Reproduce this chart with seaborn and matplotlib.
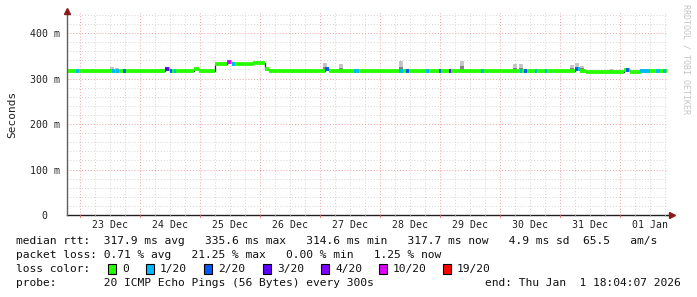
import numpy as np
import pandas as pd
import matplotlib
matplotlib.use("Agg")
import matplotlib.pyplot as plt
from matplotlib.patches import Rectangle
import seaborn as sns

# ---------------- data (time in days since 23 Dec 00:00, rtt in ms) ----------------
med_t = [-0.22, -0.12, 0.00, 1.42, 1.50, 1.90, 1.98, 2.25, 2.45, 2.53, 2.82, 2.88,
         3.08, 3.15, 4.08, 4.15, 6.18, 6.60, 8.10, 8.25, 8.33, 8.43, 9.07, 9.17, 9.35, 9.78]
med_v = [317.5, 316.0, 315.5, 322.0, 315.5, 322.0, 315.5, 333.0, 335.5, 333.0, 331.0, 334.0,
         320.0, 315.5, 320.0, 315.5, 317.0, 315.5, 317.5, 320.0, 317.5, 314.8, 319.0, 315.0, 316.5, 316.5]

loss_start = [-0.07, 0.53, 0.60, 0.72, 1.42, 1.50, 1.57, 2.45, 2.53, 4.08, 4.57, 5.32, 5.43,
              5.77, 5.98, 6.15, 6.68, 7.33, 7.40, 7.58, 7.75, 8.25, 8.30, 9.10, 9.33, 9.60, 9.72]
loss_end = [-0.02, 0.58, 0.65, 0.77, 1.48, 1.53, 1.60, 2.52, 2.58, 4.15, 4.65, 5.38, 5.48,
            5.82, 6.02, 6.18, 6.73, 7.37, 7.45, 7.62, 7.78, 8.30, 8.33, 9.15, 9.50, 9.67, 9.77]
loss_level = [1, 1, 1, 2, 3, 2, 1, 5, 1, 2, 1, 1, 2,
              1, 2, 4, 1, 1, 2, 1, 1, 2, 1, 2, 1, 1, 1]

smoke_t = [0.53, 0.62, 1.28, 4.08, 4.35, 5.07, 5.35, 6.37, 7.25, 7.35, 8.20, 8.28, 8.37, 8.85, 9.67]
smoke_top = [326, 323, 322, 334, 333, 319, 338, 339, 331, 331, 329, 334, 328, 322, 320]

loss_colors = ["#26ff00", "#00b8ff", "#0059ff", "#5e00ff", "#7e00ff", "#dd00ff", "#ff0000"]
loss_labels = ["0", "1/20", "2/20", "3/20", "4/20", "10/20", "19/20"]

day_labels = ["23 Dec", "24 Dec", "25 Dec", "26 Dec", "27 Dec", "28 Dec", "29 Dec",
              "30 Dec", "31 Dec", "01 Jan"]
y_ticks = [0, 100, 200, 300, 400]
y_ticklabels = ["0  ", "100 m", "200 m", "300 m", "400 m"]

stats_rtt = "median rtt:  317.9 ms avg   335.6 ms max   314.6 ms min   317.7 ms now   4.9 ms sd  65.5   am/s"
stats_loss = "packet loss: 0.71 % avg   21.25 % max   0.00 % min   1.25 % now"
probe_txt = "probe:       20 ICMP Echo Pings (56 Bytes) every 300s"
end_txt = "end: Thu Jan  1 18:04:07 2026"

# ---------------- figure ----------------
sns.set_theme(style="white")
plt.rcParams["font.family"] = ["DejaVu Sans Mono", "DejaVu Sans"]

W, H = 697, 297
fig = plt.figure(figsize=(W / 100, H / 100), dpi=100)
fig.patch.set_facecolor("white")

L, R, T, B = 67, 667, 13, 215
ax = fig.add_axes([L / W, 1 - B / H, (R - L) / W, (B - T) / H])
ax.set_facecolor("white")
xmin, xmax = -0.22, 9.78
ymax = 444
ax.set_xlim(xmin, xmax)
ax.set_ylim(0, ymax)

# grid
dot = (0, (1, 2))
for d in np.arange(-0.0, 10.0, 0.25):
    if xmin < d < xmax:
        is_major = abs(d - round(d)) < 1e-6
        ax.axvline(d, color="#f0a0a0" if is_major else "#d4d4d4", lw=0.7, ls=dot, zorder=0)
for yv in range(20, 441, 20):
    ax.axhline(yv, color="#f0a0a0" if yv % 100 == 0 else "#d4d4d4", lw=0.7, ls=dot, zorder=0)

# helper: step lookup of median
def median_at(t):
    idx = np.searchsorted(med_t, t, side="right") - 1
    idx = np.clip(idx, 0, len(med_v) - 1)
    return np.asarray(med_v)[idx]

# smoke
for t, top in zip(smoke_t, smoke_top):
    base = float(median_at(t))
    ax.vlines(t, base, top, color="#c4c4c4", lw=2.8, zorder=2)
    ax.vlines(t, base, base + (top - base) * 0.45, color="#808080", lw=2.8, zorder=2)

# thin dark median step line
df = pd.DataFrame({"t": med_t, "rtt": med_v})
sns.lineplot(data=df, x="t", y="rtt", drawstyle="steps-post", color="#202020",
             lw=0.9, ax=ax, zorder=3, estimator=None)

# thick colored median (loss 0)
ax.hlines(med_v[:-1], med_t[:-1], med_t[1:], color=loss_colors[0], lw=2.7, zorder=4)

# loss-colored pieces
for s, e, lv in zip(loss_start, loss_end, loss_level):
    vals = median_at((s + e) / 2)
    ax.hlines(vals, s, e, color=loss_colors[lv], lw=2.7, zorder=5)

# axes styling
for sp in ["top", "right"]:
    ax.spines[sp].set_visible(False)
ax.spines["left"].set_color("#606060")
ax.spines["left"].set_linewidth(1.0)
ax.spines["bottom"].set_color("#202020")
ax.spines["bottom"].set_linewidth(1.0)
ax.spines["left"].set_bounds(0, ymax + 3)
ax.spines["left"].set_zorder(6)

ax.set_xticks(np.arange(0.5, 10.0, 1.0))
ax.set_xticklabels(day_labels)
ax.set_yticks(y_ticks)
ax.set_yticklabels(y_ticklabels)
ax.tick_params(axis="both", length=0, labelsize=7.1, colors="#202020")
ax.tick_params(axis="x", pad=3.5)
ax.tick_params(axis="y", pad=5)
ax.set_xlabel("")
ax.set_ylabel("Seconds", fontsize=8, color="#202020")
ax.yaxis.set_label_coords(-(67 - 17) / (R - L), 0.5)

# extend bottom axis + arrows
ax.plot([xmax, xmax + 0.06], [0, 0], color="#202020", lw=1.0, clip_on=False, zorder=6)
ax.plot([xmax + 0.08], [0], marker=">", color="#8b1a1a", ms=4, clip_on=False, zorder=7)
ax.plot([xmin], [ymax + 4], marker="^", color="#8b1a1a", ms=4, clip_on=False, zorder=7)

# small axis ticks on bottom (day boundaries red, 6h grey)
for d in np.arange(0.0, 10.0, 0.25):
    if xmin < d < xmax:
        is_major = abs(d - round(d)) < 1e-6
        ax.plot([d, d], [0, -4 if is_major else -2.5], color="#e07070" if is_major else "#b0b0b0",
                lw=0.7, clip_on=False, zorder=6)

# watermark
fig.text(686 / W, 1 - 4 / H, "RRDTOOL / TOBI OETIKER", rotation=270, fontsize=6,
         color="#c4c4c4", ha="center", va="top")

# legend / stats text
def fx(x):
    return x / W

def fy(y):
    return 1 - y / H

fs = 8.1
tc = "#101010"
fig.text(fx(16), fy(241), stats_rtt, fontsize=fs, color=tc, va="center", ha="left")
fig.text(fx(16), fy(255), stats_loss, fontsize=fs, color=tc, va="center", ha="left")
fig.text(fx(16), fy(269), "loss color:", fontsize=fs, color=tc, va="center", ha="left")
fig.text(fx(16), fy(283), probe_txt, fontsize=fs, color=tc, va="center", ha="left")
fig.text(fx(681), fy(283), end_txt, fontsize=fs, color=tc, va="center", ha="right")

box_x = [108, 146, 204, 263, 321, 379, 443]
for bx, col, lab in zip(box_x, loss_colors, loss_labels):
    fig.patches.append(Rectangle((fx(bx), fy(274)), 8 / W, 10 / H, transform=fig.transFigure,
                                 facecolor=col, edgecolor="#000000", lw=0.8))
    fig.text(fx(bx + 14), fy(269), lab, fontsize=fs, color=tc, va="center", ha="left")

fig.savefig("out.png", dpi=100, facecolor="white")
